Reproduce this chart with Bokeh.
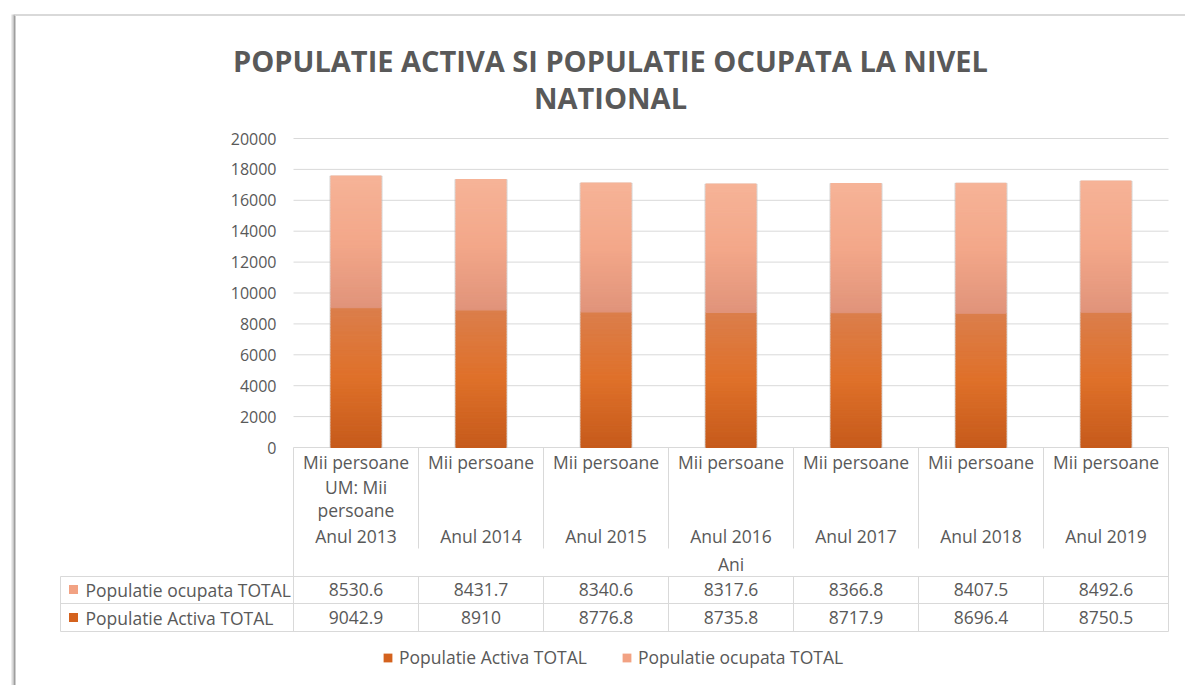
from bokeh.plotting import figure
from bokeh.models import Range1d, ColumnDataSource, Legend, LegendItem
from bokeh.core.properties import value
from bokeh.embed import file_html
from bokeh.resources import INLINE

# ---------------- data ----------------
years = ["Anul 2013", "Anul 2014", "Anul 2015", "Anul 2016", "Anul 2017", "Anul 2018", "Anul 2019"]
unit_row = ["Mii persoane"] * 7
um_note = ["UM: Mii", "persoane"]          # extra header text of the first column
axis_group = "Ani"
activa = [9042.9, 8910, 8776.8, 8735.8, 8717.9, 8696.4, 8750.5]
ocupata = [8530.6, 8431.7, 8340.6, 8317.6, 8366.8, 8407.5, 8492.6]
series_names = ["Populatie Activa TOTAL", "Populatie ocupata TOTAL"]
y_ticks = [0, 2000, 4000, 6000, 8000, 10000, 12000, 14000, 16000, 18000, 20000]
title_lines = ["POPULATIE ACTIVA SI POPULATIE OCUPATA LA NIVEL", "NATIONAL"]

# ---------------- style / layout ----------------
FONT = "Open Sans"
TEXT = "#595959"
GRID = "#D9D9D9"
ACTIVA_COLOR = "#D4621E"
OCUPATA_COLOR = "#F2A283"
activa_stops = ["#C55A1B", "#DF7029", "#DB7E4B"]
ocupata_stops = ["#E0937A", "#F3A789", "#F6B397"]

W, H = 1185, 685
CAT_LEFT = 293        # px of the first category's left edge
CAT_PX = 125          # px per category
AXIS_Y = 447          # px (from top) of value 0
PXU = 309 / 20000     # px per value unit


def X(px):
    return (px - CAT_LEFT) / CAT_PX


def Y(py):
    return (AXIS_Y - py) / PXU


def _hex(c):
    c = c.lstrip("#")
    return [int(c[i:i + 2], 16) for i in (0, 2, 4)]


def _mix(a, b, t):
    a, b = _hex(a), _hex(b)
    return "#%02x%02x%02x" % tuple(round(a[i] + (b[i] - a[i]) * t) for i in range(3))


def grad(stops, t):
    if t < 0.5:
        return _mix(stops[0], stops[1], t * 2)
    return _mix(stops[1], stops[2], (t - 0.5) * 2)


n = len(years)
centers = [i + 0.5 for i in range(n)]

# gradient slices of each stacked segment
N = 50
xs, bots, tops, cols = [], [], [], []
for i in range(n):
    base = 0.0
    for vals, stops in ((activa, activa_stops), (ocupata, ocupata_stops)):
        v = vals[i]
        for k in range(N):
            xs.append(centers[i])
            bots.append(base + v * k / N)
            tops.append(base + v * (k + 1) / N)
            cols.append(grad(stops, (k + 0.5) / N))
        base += v
bar_src = ColumnDataSource(dict(x=xs, bottom=bots, top=tops, color=cols))
totals = [a + o for a, o in zip(activa, ocupata)]

p = figure(width=W, height=H, x_range=Range1d(X(0), X(W)), y_range=Range1d(Y(H), Y(0)),
           x_axis_location=None, y_axis_location=None, toolbar_location=None,
           output_backend="svg", min_border=0)
p.grid.visible = False
p.outline_line_color = None
p.background_fill_color = "white"
p.border_fill_color = "white"

# chart border (shadowed frame of the chart area)
p.segment(x0=[X(12), X(14)], y0=[Y(14), Y(14)], x1=[X(12), X(14)], y1=[Y(H), Y(H)],
          line_color=["#dadada", "#9e9e9e"], line_width=2)
p.segment(x0=[X(14)], y0=[Y(14.5)], x1=[X(W)], y1=[Y(14.5)],
          line_color=["#d9d9d9"], line_width=2)

# title
title_txt = dict(text_font=value(FONT), text_font_size="29px", text_font_style="bold",
                 text_color=TEXT, text_align="center", text_baseline="middle")
p.text(x=[X(610)] * 2, y=[Y(60), Y(97)], text=title_lines, **title_txt)

# value gridlines + tick labels
p.segment(x0=[0] * len(y_ticks), y0=y_ticks, x1=[n] * len(y_ticks), y1=y_ticks,
          line_color=GRID, line_width=1)
p.text(x=[X(276)] * len(y_ticks), y=y_ticks, text=[str(t) for t in y_ticks],
       text_font=value(FONT), text_font_size="16px", text_color=TEXT,
       text_align="right", text_baseline="middle")

# bars
p.vbar(x=centers, bottom=0, top=totals, width=0.418, color="#bdbdbd", alpha=0.45)
p.vbar(x="x", bottom="bottom", top="top", width=0.4, fill_color="color",
       line_color="color", line_width=1.1, source=bar_src)

# ---------------- data table ----------------
tbl_left = X(60)
R_HDR_BOT, R_ANI_BOT, R_ROW1_BOT, R_ROW2_BOT = Y(548), Y(576), Y(603), Y(631)

sx0, sy0, sx1, sy1 = [], [], [], []


def seg(a, b_, c, d):
    sx0.append(a); sy0.append(b_); sx1.append(c); sy1.append(d)


for yy in (R_ANI_BOT, R_ROW1_BOT, R_ROW2_BOT):
    seg(tbl_left, yy, n, yy)
seg(tbl_left, R_ANI_BOT, tbl_left, R_ROW2_BOT)
seg(0, 0, 0, R_ROW2_BOT)
seg(n, 0, n, R_ROW2_BOT)
for i in range(1, n):
    seg(i, 0, i, R_HDR_BOT)
    seg(i, R_ANI_BOT, i, R_ROW2_BOT)
p.segment(x0=sx0, y0=sy0, x1=sx1, y1=sy1, line_color=GRID, line_width=1)

txt = dict(text_font=value(FONT), text_font_size="17.5px", text_color=TEXT,
           text_baseline="middle")
p.text(x=centers, y=[Y(461)] * n, text=unit_row, text_align="center", **txt)
p.text(x=[centers[0]] * 2, y=[Y(486), Y(509)], text=um_note, text_align="center", **txt)
p.text(x=centers, y=[Y(535)] * n, text=years, text_align="center", **txt)
p.text(x=[n / 2], y=[Y(563)], text=[axis_group], text_align="center", **txt)
p.text(x=centers, y=[Y(589)] * n, text=[f"{v:g}" for v in ocupata], text_align="center", **txt)
p.text(x=centers, y=[Y(617)] * n, text=[f"{v:g}" for v in activa], text_align="center", **txt)
p.text(x=[X(85)] * 2, y=[Y(589), Y(617)], text=[series_names[1], series_names[0]],
       text_align="left", **txt)

sq = p.rect(x=[X(73)] * 2, y=[Y(589), Y(617)], width=9, height=9,
            width_units="screen", height_units="screen",
            fill_color=[OCUPATA_COLOR, ACTIVA_COLOR], line_color=None)

legend = Legend(items=[LegendItem(label=series_names[0], renderers=[sq], index=1),
                       LegendItem(label=series_names[1], renderers=[sq], index=0)],
                orientation="horizontal", location=(382, 16), border_line_color=None,
                background_fill_alpha=0, padding=0, margin=0, spacing=34,
                glyph_width=11, glyph_height=11, label_standoff=6,
                label_text_font=FONT, label_text_font_size="17.5px", label_text_color=TEXT)
p.add_layout(legend)

open("out.html", "w").write(file_html(p, INLINE))
